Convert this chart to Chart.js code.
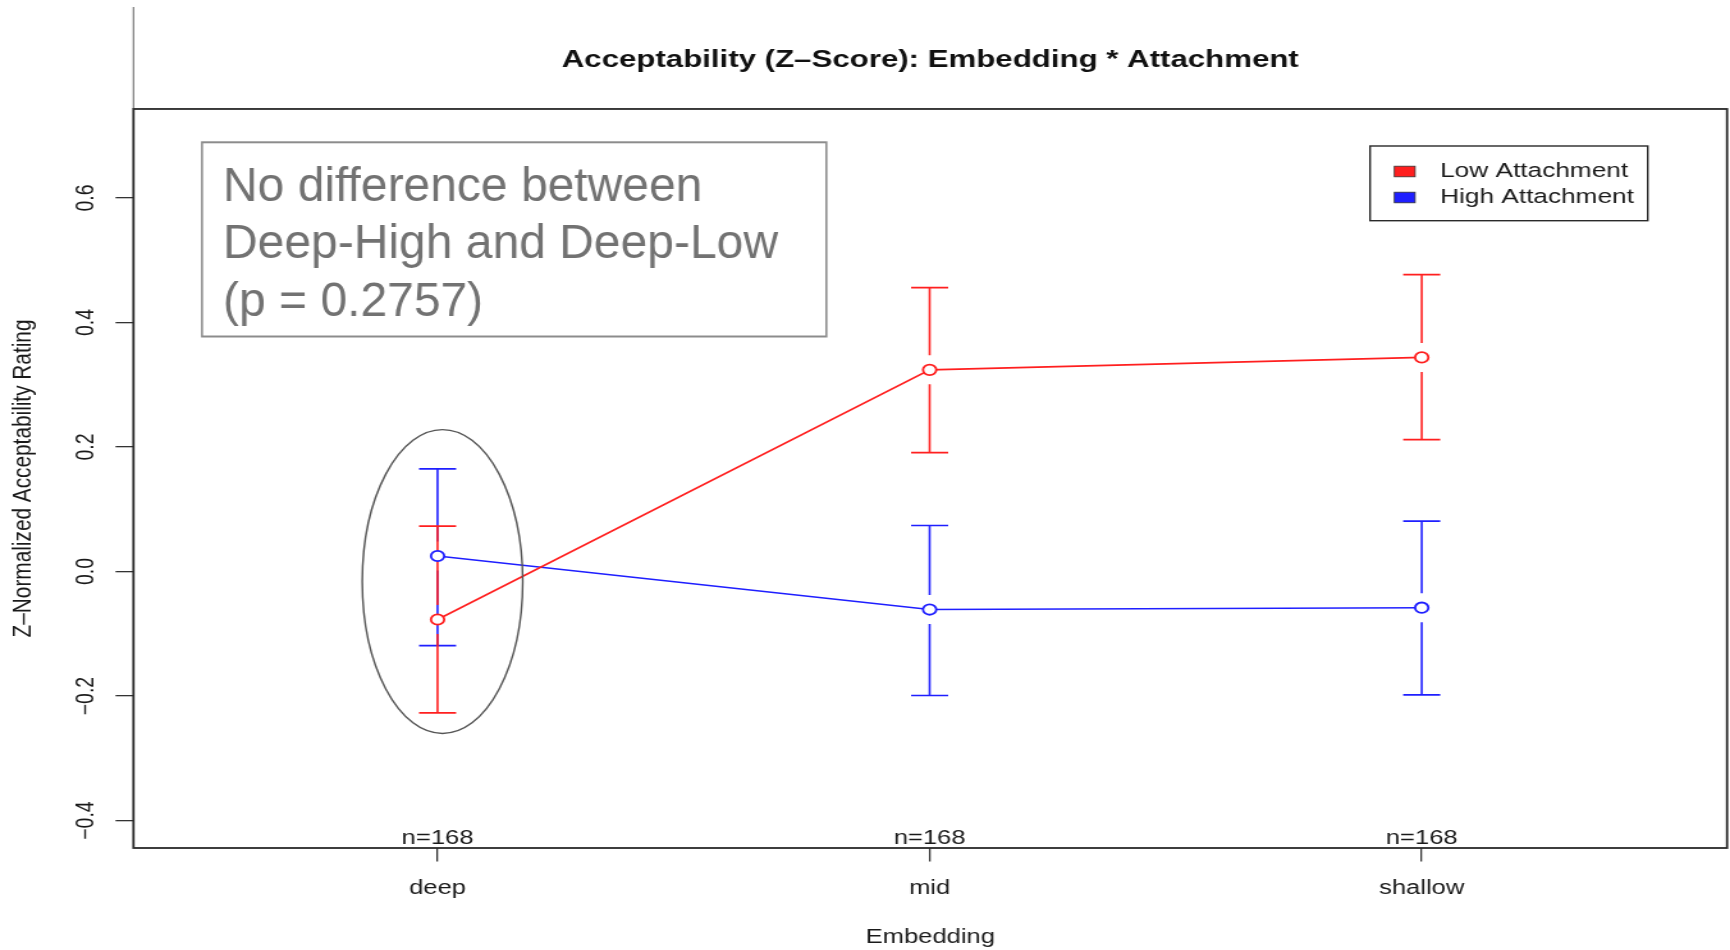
<!DOCTYPE html>
<html>
<head>
<meta charset="utf-8">
<title>Acceptability (Z-Score): Embedding * Attachment</title>
<script src="https://cdn.jsdelivr.net/npm/chart.js@4.4.0/dist/chart.umd.min.js"></script>
<style>
  html, body { margin: 0; padding: 0; background: #fff; }
</style>
</head>
<body>
<canvas id="chart" width="1352" height="950" style="display:block;width:1730px;height:950px"></canvas>
<script>
// Data
const categories = ['deep', 'mid', 'shallow'];
const sampleSizes = ['n=168', 'n=168', 'n=168'];
const lowMean = [-0.077, 0.324, 0.344];
const lowUpper = [0.073, 0.456, 0.477];
const lowLower = [-0.227, 0.191, 0.212];
const highMean = [0.025, -0.061, -0.058];
const highUpper = [0.165, 0.074, 0.081];
const highLower = [-0.119, -0.199, -0.198];
const yTicks = [-0.4, -0.2, 0.0, 0.2, 0.4, 0.6];
const noteLines = ['No difference between', 'Deep-High and Deep-Low', '(p = 0.2757)'];

// the original R plot was stretched sideways, so the canvas is drawn narrow and widened by CSS
const STRETCH = 1730 / 1352;
const FONT = '"Liberation Sans", Arial, Helvetica, sans-serif';
const RED = '#ff1f1f';
const BLUE = '#1f1fff';

const rPlotLook = {
    id: 'rPlotLook',
    beforeDatasetsDraw(chart) {
        const ctx = chart.ctx;
        const xs = chart.scales.x;
        const ys = chart.scales.y;
        const cap = 14.5, gap = 14.5;
        // blue bars first, red on top
        [1, 0].forEach(i => {
            const ds = chart.data.datasets[i];
            ctx.save();
            ctx.strokeStyle = ds.borderColor;
            ctx.lineWidth = 1.6;
            ds.data.forEach((p, j) => {
                const px = xs.getPixelForValue(p.x);
                const top = ys.getPixelForValue(ds.errUpper[j]);
                const mid = ys.getPixelForValue(p.y);
                const bot = ys.getPixelForValue(ds.errLower[j]);
                ctx.beginPath();
                ctx.moveTo(px, top); ctx.lineTo(px, mid - gap);
                ctx.moveTo(px, mid + gap); ctx.lineTo(px, bot);
                ctx.moveTo(px - cap, top); ctx.lineTo(px + cap, top);
                ctx.moveTo(px - cap, bot); ctx.lineTo(px + cap, bot);
                ctx.stroke();
            });
            ctx.restore();
        });
    },
    afterDraw(chart) {
        const ctx = chart.ctx;
        const area = chart.chartArea;
        const xs = chart.scales.x;
        const ys = chart.scales.y;

        // plot frame + the stray line above it
        ctx.save();
        ctx.strokeStyle = '#7a7a7a';
        ctx.lineWidth = 1.2;
        ctx.beginPath();
        ctx.moveTo(area.left, 7); ctx.lineTo(area.left, area.top);
        ctx.stroke();
        ctx.strokeStyle = '#2a2a2a';
        ctx.lineWidth = 1.8;
        ctx.strokeRect(area.left, area.top, area.right - area.left, area.bottom - area.top);
        ctx.restore();

        // rotated y tick labels
        ctx.save();
        ctx.font = '19.5px ' + FONT;
        ctx.fillStyle = '#1a1a1a';
        ctx.textAlign = 'center';
        ctx.textBaseline = 'middle';
        ys.ticks.forEach(t => {
            const py = ys.getPixelForValue(t.value);
            ctx.save();
            ctx.translate(67.5, py);
            ctx.rotate(-Math.PI / 2);
            ctx.fillText(t.value.toFixed(1).replace('-', '\u2212'), 0, 0);
            ctx.restore();
        });
        ctx.restore();

        // n= labels sitting on the x axis
        ctx.save();
        ctx.font = '20px ' + FONT;
        ctx.fillStyle = '#1a1a1a';
        ctx.textAlign = 'center';
        ctx.textBaseline = 'alphabetic';
        sampleSizes.forEach((s, i) => {
            ctx.fillText(s, xs.getPixelForValue(i + 1), area.bottom - 4);
        });
        ctx.restore();

        // legend box
        ctx.save();
        const lx = 1070.7, ly = 146, lw = 217, lh = 74.7;
        ctx.strokeStyle = '#2a2a2a';
        ctx.lineWidth = 1.4;
        ctx.strokeRect(lx, ly, lw, lh);
        ctx.font = '20.5px ' + FONT;
        ctx.textBaseline = 'middle';
        ctx.textAlign = 'left';
        chart.data.datasets.forEach((ds, i) => {
            const cy = 171.5 + i * 26;
            ctx.fillStyle = ds.borderColor;
            ctx.fillRect(1089.7, cy - 5.3, 16.2, 10.6);
            ctx.strokeStyle = '#333';
            ctx.lineWidth = 0.8;
            ctx.strokeRect(1089.7, cy - 5.3, 16.2, 10.6);
            ctx.fillStyle = '#1a1a1a';
            ctx.fillText(ds.label, 1125.4, cy);
        });
        ctx.restore();

        // ellipse round the deep condition
        ctx.save();
        const ecx = xs.getPixelForValue(1.01);
        const ecy = ys.getPixelForValue(-0.016);
        const erx = xs.getPixelForValue(1.173) - ecx;
        const ery = ys.getPixelForValue(-0.016) - ys.getPixelForValue(0.228);
        ctx.strokeStyle = '#555';
        ctx.lineWidth = 1.4;
        ctx.beginPath();
        ctx.ellipse(ecx, ecy, erx, ery, 0, 0, Math.PI * 2);
        ctx.stroke();
        ctx.restore();

        // annotation box (pasted on top of the plot, so not stretched)
        ctx.save();
        ctx.scale(1 / STRETCH, 1);
        ctx.strokeStyle = '#8c8c8c';
        ctx.lineWidth = 2;
        ctx.strokeRect(202, 142.3, 624.4, 194.2);
        ctx.font = '48px ' + FONT;
        ctx.fillStyle = '#727272';
        ctx.textAlign = 'left';
        ctx.textBaseline = 'alphabetic';
        noteLines.forEach((line, i) => {
            ctx.fillText(line, 223, 201 + i * 57.3);
        });
        ctx.restore();
    }
};

new Chart(document.getElementById('chart'), {
    type: 'line',
    data: {
        datasets: [
            {
                label: 'Low Attachment',
                data: lowMean.map((v, i) => ({ x: i + 1, y: v })),
                errUpper: lowUpper,
                errLower: lowLower,
                borderColor: RED,
                backgroundColor: RED,
                borderWidth: 1.6,
                pointRadius: 5.2,
                pointBorderWidth: 1.8,
                pointBorderColor: RED,
                pointBackgroundColor: '#fff',
                tension: 0
            },
            {
                label: 'High Attachment',
                data: highMean.map((v, i) => ({ x: i + 1, y: v })),
                errUpper: highUpper,
                errLower: highLower,
                borderColor: BLUE,
                backgroundColor: BLUE,
                borderWidth: 1.6,
                pointRadius: 5.2,
                pointBorderWidth: 1.8,
                pointBorderColor: BLUE,
                pointBackgroundColor: '#fff',
                tension: 0
            }
        ]
    },
    options: {
        responsive: false,
        devicePixelRatio: 1,
        animation: false,
        layout: { autoPadding: false, padding: { left: 0, right: 2.3, top: 0, bottom: 0 } },
        plugins: {
            legend: { display: false },
            tooltip: { enabled: false },
            title: {
                display: true,
                fullSize: false,
                text: 'Acceptability (Z\u2013Score): Embedding * Attachment',
                color: '#111',
                font: { family: FONT, size: 24.4, weight: 'bold' },
                padding: { top: 45.5, bottom: 34.2 }
            }
        },
        scales: {
            x: {
                type: 'linear',
                min: 0.382,
                max: 3.6205,
                afterBuildTicks: s => { s.ticks = categories.map((c, i) => ({ value: i + 1 })); },
                afterFit: s => { s.height = 102; },
                ticks: {
                    callback: v => categories[v - 1],
                    color: '#1a1a1a',
                    font: { family: FONT, size: 20 },
                    padding: 15,
                    maxRotation: 0,
                    autoSkip: false
                },
                grid: { drawOnChartArea: false, tickLength: 13.5, color: '#333', lineWidth: 1.3 },
                border: { display: false },
                title: {
                    display: true,
                    text: 'Embedding',
                    color: '#1a1a1a',
                    font: { family: FONT, size: 20 },
                    padding: { top: 0, bottom: 1 }
                }
            },
            y: {
                min: -0.444,
                max: 0.743,
                afterBuildTicks: s => { s.ticks = yTicks.map(v => ({ value: v })); },
                afterFit: s => { s.width = 104.3; },
                ticks: { display: false },
                grid: { drawOnChartArea: false, tickLength: 14, color: '#333', lineWidth: 1.3 },
                border: { display: false },
                title: {
                    display: true,
                    text: 'Z\u2013Normalized Acceptability Rating',
                    color: '#1a1a1a',
                    font: { family: FONT, size: 20.8 },
                    padding: { top: 5.5, bottom: 0 }
                }
            }
        }
    },
    plugins: [rPlotLook]
});
</script>
</body>
</html>
